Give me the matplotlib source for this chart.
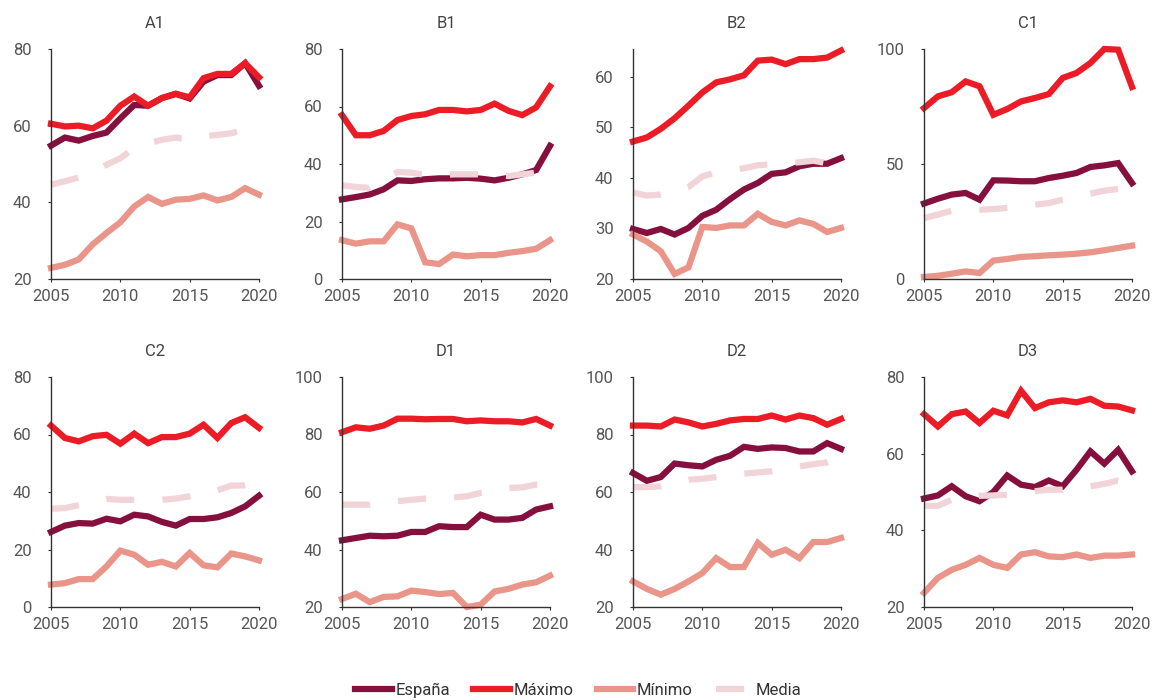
import matplotlib
matplotlib.use("Agg")
import matplotlib.pyplot as plt

plt.rcParams['font.family'] = ['Roboto', 'DejaVu Sans']

years = list(range(2005, 2021))
series_names = ['España', 'Máximo', 'Mínimo', 'Media']
panel_names = ['A1', 'B1', 'B2', 'C1', 'C2', 'D1', 'D2', 'D3']

# valores por panel
a1_espana = [54.8, 56.9, 56.1, 57.3, 58.2, 61.9, 65.4, 65.2, 67.2, 68.3, 67.1, 71.5, 73.2, 73.2, 76.3, 70.4]
a1_maximo = [60.5, 59.8, 60.0, 59.3, 61.3, 65.2, 67.6, 65.2, 67.2, 68.3, 67.4, 72.4, 73.5, 73.5, 76.3, 72.6]
a1_minimo = [22.9, 23.7, 25.1, 29.0, 32.0, 34.8, 38.9, 41.4, 39.6, 40.7, 40.9, 41.8, 40.5, 41.4, 43.7, 42.0]
a1_media = [44.6, 45.5, 46.5, 48.1, 49.8, 51.5, 54.1, 55.4, 56.3, 56.9, 56.3, 57.2, 57.6, 58.0, 59.1, 60.2]

b1_espana = [27.7, 28.5, 29.4, 31.2, 34.3, 34.1, 34.7, 35.0, 35.0, 35.2, 34.9, 34.3, 35.2, 36.4, 37.9, 46.3]
b1_maximo = [57.0, 50.0, 50.0, 51.5, 55.3, 56.7, 57.3, 58.8, 58.8, 58.3, 58.8, 61.0, 58.5, 57.0, 59.7, 67.0]
b1_minimo = [13.5, 12.3, 13.1, 13.1, 19.0, 17.6, 5.8, 5.2, 8.5, 7.9, 8.3, 8.3, 9.1, 9.7, 10.5, 13.5]
b1_media = [32.6, 32.0, 31.7, 34.5, 37.2, 37.0, 36.2, 35.8, 36.4, 36.4, 36.4, 36.2, 35.8, 36.4, 37.0, 38.0]

b2_espana = [29.9, 29.1, 29.9, 28.8, 30.1, 32.5, 33.7, 35.8, 37.7, 39.0, 40.8, 41.1, 42.3, 42.8, 42.8, 43.9]
b2_maximo = [47.2, 48.0, 49.7, 51.8, 54.3, 56.9, 58.9, 59.5, 60.3, 63.2, 63.4, 62.5, 63.5, 63.5, 63.8, 65.2]
b2_minimo = [28.8, 27.4, 25.5, 21.0, 22.3, 30.3, 30.1, 30.6, 30.6, 32.9, 31.3, 30.6, 31.6, 30.9, 29.3, 30.1]
b2_media = [37.1, 36.5, 36.7, 37.4, 38.2, 40.3, 41.1, 41.5, 41.9, 42.5, 42.7, 42.9, 43.1, 43.4, 42.9, 43.5]

c1_espana = [32.8, 34.9, 36.7, 37.4, 34.5, 42.9, 42.8, 42.5, 42.5, 43.9, 44.9, 46.1, 48.7, 49.4, 50.4, 41.7]
c1_maximo = [74.3, 79.4, 81.2, 85.9, 83.8, 71.4, 73.9, 77.2, 78.7, 80.4, 87.4, 89.6, 93.9, 100.0, 99.7, 83.5]
c1_minimo = [0.9, 1.4, 2.3, 3.3, 2.6, 8.0, 8.7, 9.6, 9.9, 10.3, 10.6, 11.0, 11.6, 12.5, 13.5, 14.5]
c1_media = [26.5, 28.0, 29.7, 29.9, 30.1, 30.4, 30.9, 31.3, 32.3, 33.0, 34.5, 35.9, 37.1, 38.4, 39.1, 36.7]

c2_espana = [26.1, 28.3, 29.2, 29.0, 30.7, 29.8, 32.1, 31.5, 29.6, 28.3, 30.6, 30.6, 31.2, 32.7, 35.0, 38.7]
c2_maximo = [63.1, 58.8, 57.6, 59.4, 59.9, 56.8, 60.3, 57.0, 59.1, 59.1, 60.3, 63.4, 58.8, 64.0, 66.0, 62.3]
c2_minimo = [7.8, 8.3, 9.7, 9.7, 14.1, 19.6, 18.2, 14.7, 15.7, 14.1, 18.8, 14.5, 13.8, 18.6, 17.6, 16.2]
c2_media = [34.2, 34.4, 35.4, 36.4, 37.6, 37.3, 37.3, 37.3, 37.3, 37.7, 38.5, 39.7, 40.6, 42.2, 42.3, 43.5]

d1_espana = [43.2, 44.0, 44.8, 44.6, 44.8, 46.1, 46.1, 48.1, 47.8, 47.8, 52.1, 50.4, 50.4, 51.0, 53.9, 55.0]
d1_maximo = [80.8, 82.5, 82.0, 83.1, 85.5, 85.5, 85.3, 85.4, 85.4, 84.6, 84.9, 84.6, 84.6, 84.2, 85.4, 83.1]
d1_minimo = [22.8, 24.6, 21.7, 23.5, 23.7, 25.7, 25.2, 24.5, 24.9, 20.0, 20.8, 25.4, 26.3, 27.8, 28.6, 30.9]
d1_media = [55.6, 55.6, 55.6, 56.2, 56.8, 57.3, 57.7, 57.9, 58.1, 58.5, 59.7, 60.6, 61.4, 61.6, 62.6, 62.6]

d2_espana = [66.6, 63.9, 65.2, 69.9, 69.3, 68.9, 71.2, 72.6, 75.7, 75.0, 75.5, 75.3, 74.1, 74.1, 77.0, 75.0]
d2_maximo = [83.1, 83.1, 82.8, 85.2, 84.2, 82.8, 83.7, 84.9, 85.4, 85.4, 86.6, 85.2, 86.6, 85.7, 83.4, 85.4]
d2_minimo = [28.9, 26.3, 24.3, 26.3, 28.9, 31.8, 37.0, 33.9, 33.9, 42.3, 38.2, 39.9, 37.0, 42.6, 42.6, 44.0]
d2_media = [61.7, 61.7, 62.0, 63.2, 64.3, 64.6, 65.2, 65.8, 66.4, 66.8, 67.2, 68.0, 68.9, 69.7, 70.3, 71.8]

d3_espana = [48.3, 49.1, 51.5, 48.9, 47.6, 50.0, 54.3, 51.9, 51.3, 53.0, 51.5, 55.8, 60.6, 57.4, 61.0, 55.4]
d3_maximo = [70.3, 67.1, 70.3, 71.0, 68.0, 71.2, 70.0, 76.4, 71.9, 73.4, 73.9, 73.4, 74.3, 72.5, 72.3, 71.3]
d3_minimo = [23.7, 27.6, 29.7, 31.0, 32.8, 31.0, 30.2, 33.7, 34.3, 33.2, 33.0, 33.7, 32.8, 33.4, 33.4, 33.7]
d3_media = [46.4, 46.4, 48.0, 48.5, 49.0, 49.1, 49.3, 49.8, 50.2, 50.6, 50.6, 51.0, 51.5, 52.1, 53.0, 52.5]

panel_data = [
    (a1_espana, a1_maximo, a1_minimo, a1_media),
    (b1_espana, b1_maximo, b1_minimo, b1_media),
    (b2_espana, b2_maximo, b2_minimo, b2_media),
    (c1_espana, c1_maximo, c1_minimo, c1_media),
    (c2_espana, c2_maximo, c2_minimo, c2_media),
    (d1_espana, d1_maximo, d1_minimo, d1_media),
    (d2_espana, d2_maximo, d2_minimo, d2_media),
    (d3_espana, d3_maximo, d3_minimo, d3_media),
]
y_limits = [(20, 80), (0, 80), (20, 65.5), (0, 100), (0, 80), (20, 100), (20, 100), (20, 80)]
y_ticks = [
    [20, 40, 60, 80],
    [0, 20, 40, 60, 80],
    [20, 30, 40, 50, 60],
    [0, 50, 100],
    [0, 20, 40, 60, 80],
    [20, 40, 60, 80, 100],
    [20, 40, 60, 80, 100],
    [20, 40, 60, 80],
]
x_ticks = [2005, 2010, 2015, 2020]

colors = ['#85103E', '#EC1C27', '#E9958A', '#F0D4D8']
W, H = 1157, 700
fig = plt.figure(figsize=(W / 100, H / 100), dpi=100)

lefts = [51, 342, 633, 924]
tops = [49, 377]
ax_w, ax_h = 208, 230

lines = []
for i, name in enumerate(panel_names):
    left = lefts[i % 4]
    top = tops[i // 4]
    ax = fig.add_axes([left / W, 1 - (top + ax_h) / H, ax_w / W, ax_h / H])
    for j, values in enumerate(panel_data[i]):
        if series_names[j] == 'Media':
            ln, = ax.plot(years, values, color=colors[j], lw=4.5, dashes=(4.5, 4.5),
                          solid_capstyle='butt', dash_capstyle='butt', clip_on=False,
                          label=series_names[j])
        else:
            ln, = ax.plot(years, values, color=colors[j], lw=4.5, clip_on=False,
                          solid_joinstyle='miter', label=series_names[j])
        if i == 0:
            lines.append(ln)
    ax.set_xlim(2005, 2020)
    ax.set_ylim(*y_limits[i])
    ax.set_xticks(x_ticks)
    ax.set_yticks(y_ticks[i])
    ax.spines['top'].set_visible(False)
    ax.spines['right'].set_visible(False)
    for s in ['left', 'bottom']:
        ax.spines[s].set_color('#333333')
        ax.spines[s].set_linewidth(1.0)
    ax.tick_params(axis='y', length=2, pad=12, labelsize=12, labelcolor='#555555', color='#333333')
    ax.tick_params(axis='x', length=2.5, pad=5, labelsize=12, labelcolor='#555555', color='#333333')
    ax.set_title(name, fontsize=12, color='#444444', pad=15)

fig.legend(lines, series_names, loc='center', bbox_to_anchor=(0.5, 1 - 690 / H), ncol=4,
           frameon=False, fontsize=12, handlelength=2.2, handletextpad=0.2,
           columnspacing=1.4, labelcolor='#333333')

fig.savefig('out.png', dpi=100)
